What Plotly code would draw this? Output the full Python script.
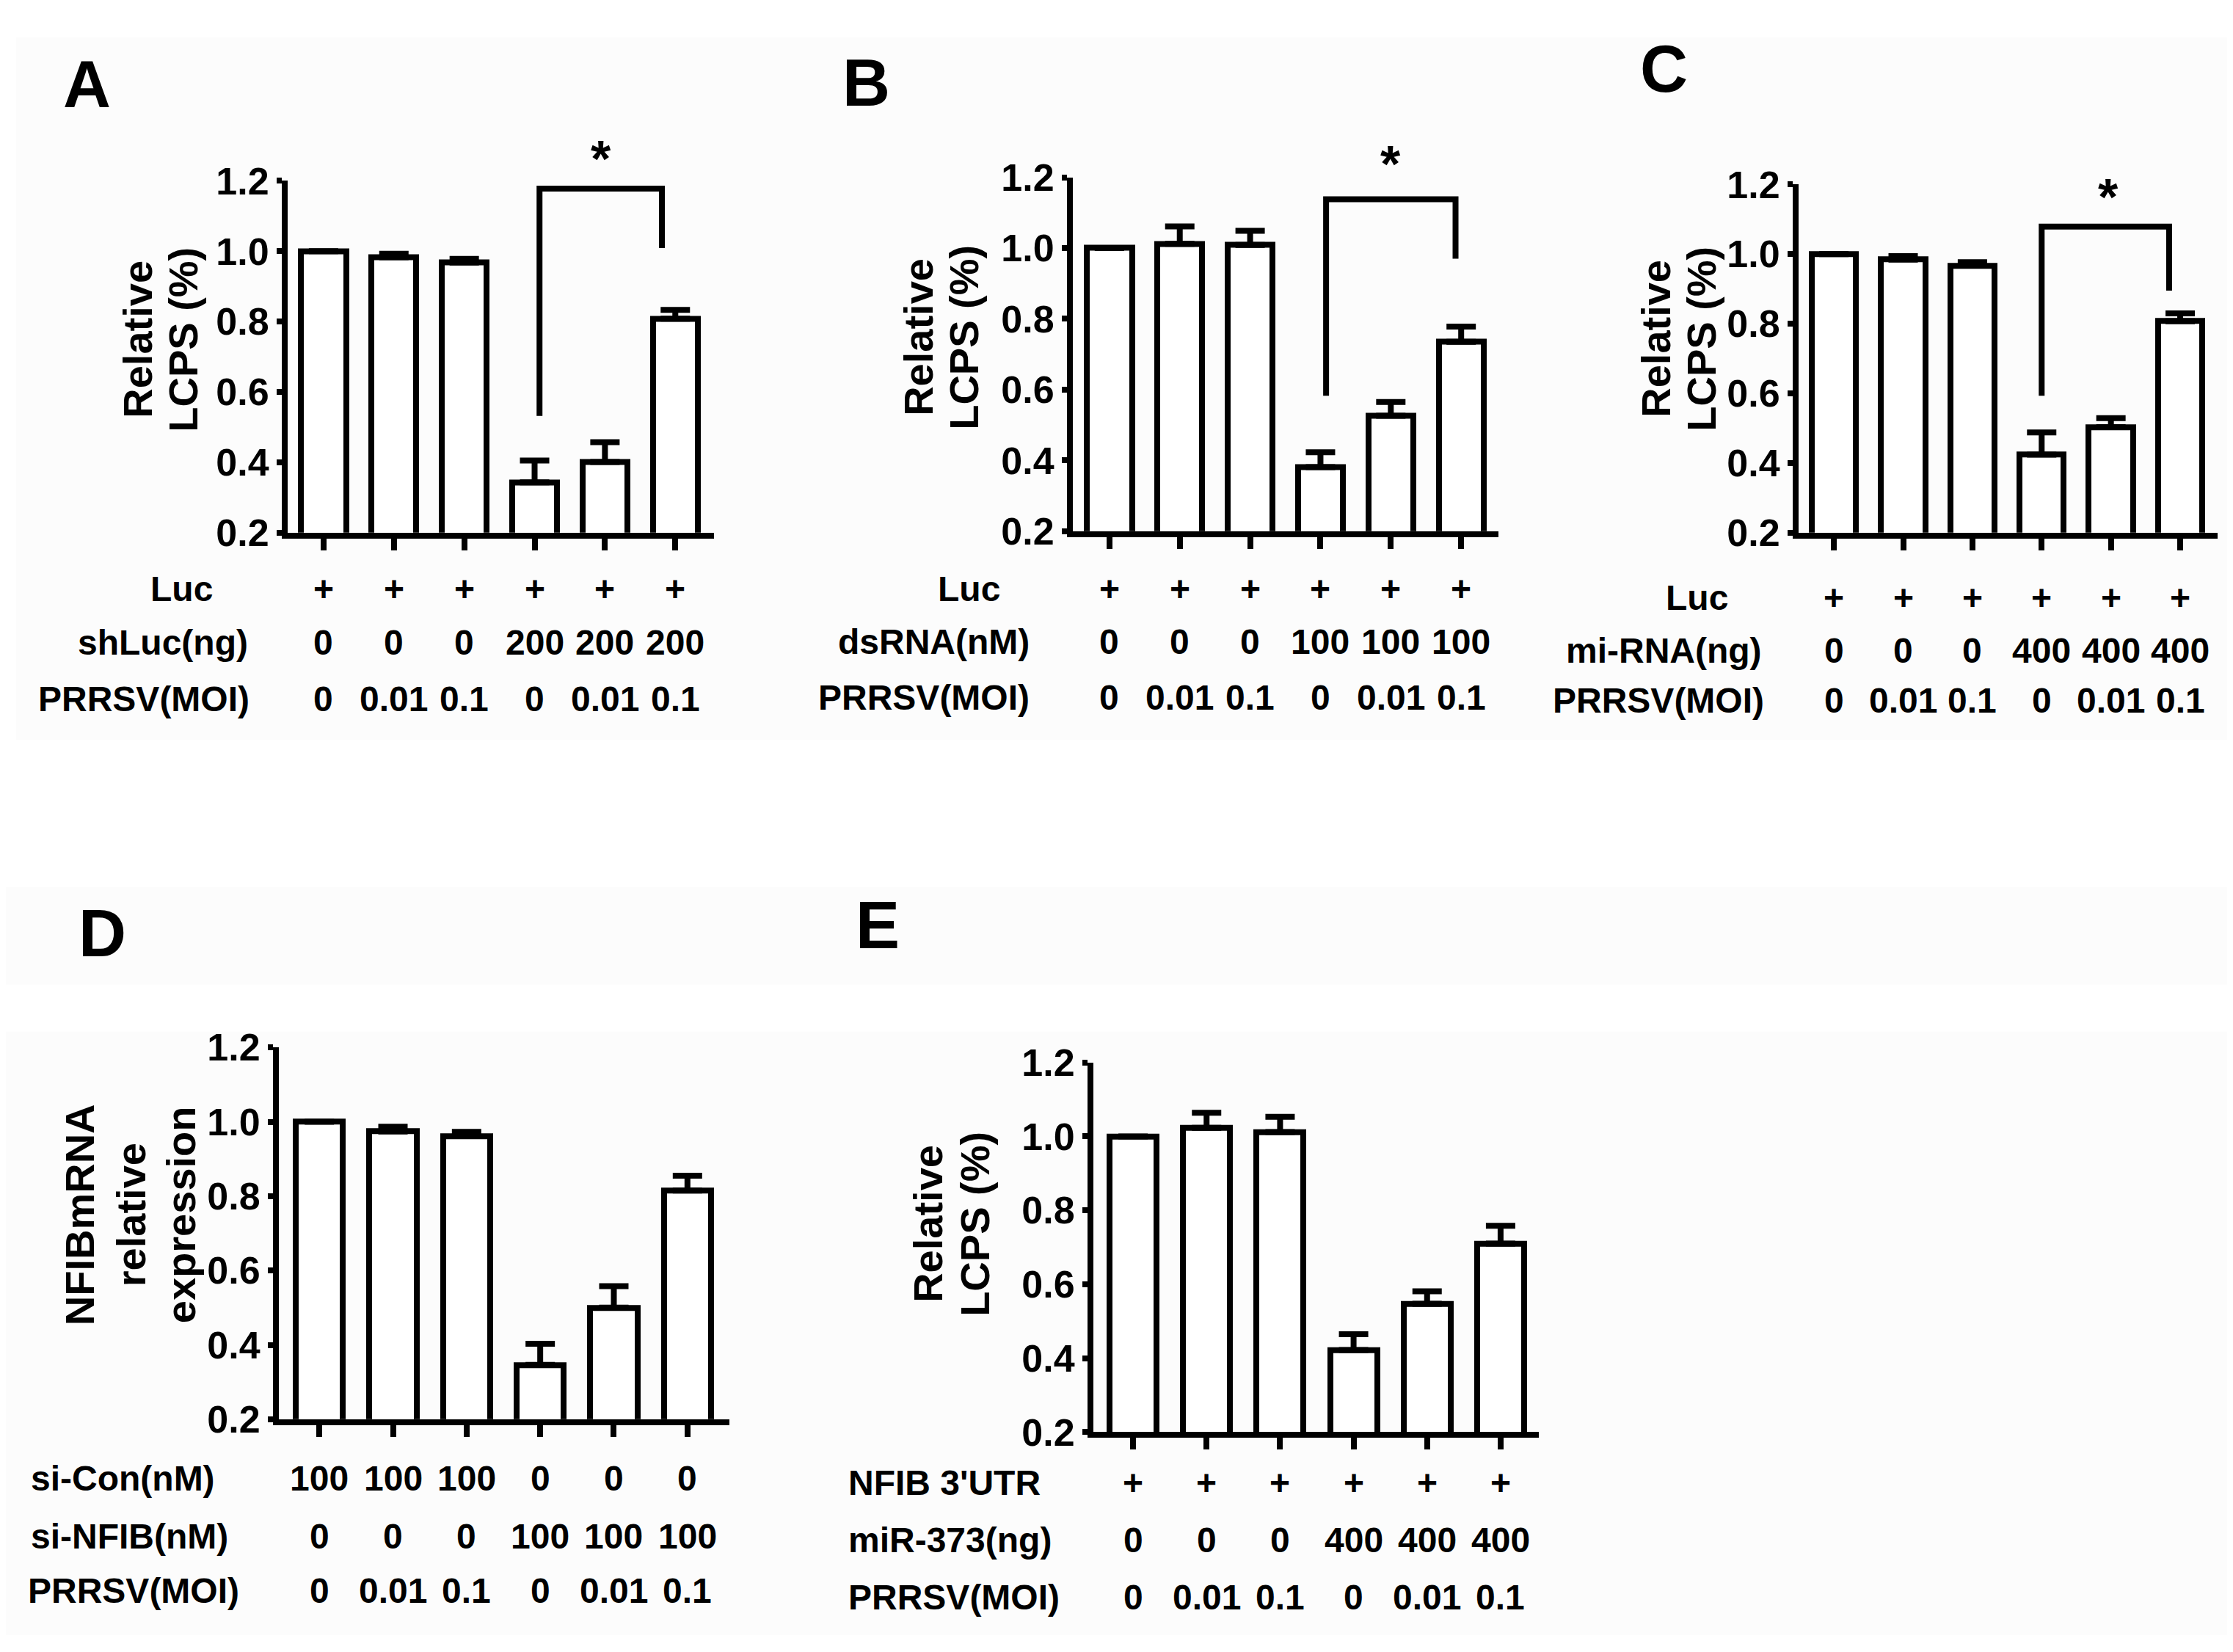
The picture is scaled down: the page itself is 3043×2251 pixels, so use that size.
import plotly.graph_objects as go

W, H = 3043, 2251

# ---------------- data ----------------
bar_idx = [0, 1, 2, 3, 4, 5]
y_ticks = [0.2, 0.4, 0.6, 0.8, 1.0, 1.2]

A_values = [1.00, 0.983, 0.968, 0.343, 0.401, 0.808]
A_errors = [0.0, 0.010, 0.010, 0.062, 0.056, 0.025]
B_values = [1.00, 1.012, 1.009, 0.381, 0.526, 0.735]
B_errors = [0.0, 0.049, 0.040, 0.042, 0.039, 0.043]
C_values = [1.00, 0.984, 0.967, 0.424, 0.503, 0.807]
C_errors = [0.0, 0.010, 0.010, 0.064, 0.026, 0.023]
D_values = [1.00, 0.974, 0.962, 0.346, 0.500, 0.815]
D_errors = [0.0, 0.013, 0.011, 0.057, 0.058, 0.040]
E_values = [1.00, 1.023, 1.012, 0.422, 0.547, 0.710]
E_errors = [0.0, 0.041, 0.041, 0.043, 0.034, 0.048]

A_bracket_x = [3.07, 3.07, 4.81, 4.81]
A_bracket_y = [0.532, 1.178, 1.178, 1.009]
A_star = [3.94, 1.277]
B_bracket_x = [3.08, 3.08, 4.92, 4.92]
B_bracket_y = [0.583, 1.138, 1.138, 0.970]
B_star = [4.0, 1.25]
C_bracket_x = [3.0, 3.0, 4.84, 4.84]
C_bracket_y = [0.593, 1.079, 1.079, 0.895]
C_star = [3.96, 1.177]

plus_row = ["+", "+", "+", "+", "+", "+"]
moi_row = ["0", "0.01", "0.1", "0", "0.01", "0.1"]

A_row_names = ["Luc", "shLuc(ng)", "PRRSV(MOI)"]
A_rows = [plus_row, ["0", "0", "0", "200", "200", "200"], moi_row]
B_row_names = ["Luc", "dsRNA(nM)", "PRRSV(MOI)"]
B_rows = [plus_row, ["0", "0", "0", "100", "100", "100"], moi_row]
C_row_names = ["Luc", "mi-RNA(ng)", "PRRSV(MOI)"]
C_rows = [plus_row, ["0", "0", "0", "400", "400", "400"], moi_row]
D_row_names = ["si-Con(nM)", "si-NFIB(nM)", "PRRSV(MOI)"]
D_rows = [["100", "100", "100", "0", "0", "0"], ["0", "0", "0", "100", "100", "100"], moi_row]
E_row_names = ["NFIB 3'UTR", "miR-373(ng)", "PRRSV(MOI)"]
E_rows = [plus_row, ["0", "0", "0", "400", "400", "400"], moi_row]

A_ytitle = ["Relative", "LCPS (%)"]
B_ytitle = ["Relative", "LCPS (%)"]
C_ytitle = ["Relative", "LCPS (%)"]
D_ytitle = ["NFIBmRNA", "relative", "expression"]
E_ytitle = ["Relative", "LCPS (%)"]

# ---------------- layout (pixel geometry) ----------------
FONT = "Liberation Sans, Arial, sans-serif"
LW = 8

panels = [
    dict(letter="A", vals=A_values, errs=A_errors, rows=A_rows, names=A_row_names, ytitle=A_ytitle,
         bx=A_bracket_x, by=A_bracket_y, star=A_star,
         x0=384, x1=965, yt=215, yb=707, xr=[-0.51, 5.55],
         letter_xy=(110, 80), title_x=[180, 242], title_y=437,
         rows_y=[786, 861, 940], name_pos=[("center", 240), ("right", 332), ("right", 334)]),
    dict(letter="B", vals=B_values, errs=B_errors, rows=B_rows, names=B_row_names, ytitle=B_ytitle,
         bx=B_bracket_x, by=B_bracket_y, star=B_star,
         x0=1454, x1=2034, yt=210, yb=705, xr=[-0.52, 5.53],
         letter_xy=(1172, 78), title_x=[1244, 1306], title_y=434,
         rows_y=[786, 860, 938], name_pos=[("center", 1312), ("right", 1397), ("right", 1397)]),
    dict(letter="C", vals=C_values, errs=C_errors, rows=C_rows, names=C_row_names, ytitle=C_ytitle,
         bx=C_bracket_x, by=C_bracket_y, star=C_star,
         x0=2443, x1=3014, yt=220, yb=707, xr=[-0.51, 5.54],
         letter_xy=(2259, 58), title_x=[2249, 2311], title_y=436,
         rows_y=[798, 872, 942], name_pos=[("center", 2304), ("right", 2395), ("right", 2398)]),
    dict(letter="D", vals=D_values, errs=D_errors, rows=D_rows, names=D_row_names, ytitle=D_ytitle,
         bx=None, by=None, star=None,
         x0=372, x1=986, yt=1427, yb=1947, xr=[-0.55, 5.57],
         letter_xy=(131, 1268), title_x=[100, 170, 238], title_y=1661,
         rows_y=[2030, 2111, 2187], name_pos=[("left", 32), ("left", 32), ("left", 28)]),
    dict(letter="E", vals=E_values, errs=E_errors, rows=E_rows, names=E_row_names, ytitle=E_ytitle,
         bx=None, by=None, star=None,
         x0=1482, x1=2089, yt=1448, yb=1965, xr=[-0.54, 5.52],
         letter_xy=(1188, 1256), title_x=[1257, 1321], title_y=1674,
         rows_y=[2036, 2116, 2196], name_pos=[("left", 1146), ("left", 1146), ("left", 1146)]),
]


def px(x):
    return x / W


def py(y):
    return 1 - y / H


def bold(size):
    return dict(family=FONT, size=size, color="black", weight="bold")


fig = go.Figure()
annotations = []
BAND = "#fcfcfc"
shapes = [
    dict(type="rect", xref="paper", yref="paper", x0=px(14), x1=1, y0=py(997), y1=py(14),
         fillcolor=BAND, line=dict(width=0), layer="below"),
    dict(type="rect", xref="paper", yref="paper", x0=0, x1=1, y0=py(1339), y1=py(1203),
         fillcolor=BAND, line=dict(width=0), layer="below"),
    dict(type="rect", xref="paper", yref="paper", x0=0, x1=1, y0=py(2249), y1=py(1405),
         fillcolor=BAND, line=dict(width=0), layer="below"),
]
layout_axes = {}

for i, p in enumerate(panels, start=1):
    xa = "x" if i == 1 else f"x{i}"
    ya = "y" if i == 1 else f"y{i}"
    fig.add_trace(go.Bar(
        x=bar_idx, y=p["vals"], xaxis=xa, yaxis=ya, width=0.64,
        marker=dict(color="white", line=dict(color="black", width=LW)),
        error_y=dict(type="data", array=p["errs"], arrayminus=[0] * 6, symmetric=False,
                     color="black", thickness=LW, width=20),
        showlegend=False, hoverinfo="skip"))
    if p["bx"] is not None:
        fig.add_trace(go.Scatter(
            x=p["bx"], y=p["by"], xaxis=xa, yaxis=ya, mode="lines",
            line=dict(color="black", width=LW), cliponaxis=False,
            showlegend=False, hoverinfo="skip"))
        # star placed in axis-domain units (range 0.2..1.2 -> 0..1)
        annotations.append(dict(x=p["star"][0], y=(p["star"][1] - 0.2) / 1.0,
                                xref=xa, yref=f"{ya} domain", text="*",
                                showarrow=False, yshift=34, font=bold(70)))
    layout_axes["xaxis" if i == 1 else f"xaxis{i}"] = dict(
        domain=[px(p["x0"]), px(p["x1"])], anchor=ya, range=p["xr"],
        showgrid=False, zeroline=False, showline=True, linecolor="black", linewidth=LW,
        ticks="outside", tickvals=bar_idx, ticklen=16, tickwidth=LW, tickcolor="black",
        showticklabels=False, fixedrange=True)
    layout_axes["yaxis" if i == 1 else f"yaxis{i}"] = dict(
        domain=[py(p["yb"]), py(p["yt"])], anchor=xa, range=[0.2, 1.2],
        showgrid=False, zeroline=False, showline=True, linecolor="black", linewidth=LW,
        ticks="outside", tickvals=y_ticks, tickformat=".1f", ticklen=7, tickwidth=LW,
        tickcolor="black", tickfont=bold(52), fixedrange=True)

    lx, ly = p["letter_xy"]
    annotations.append(dict(x=px(lx), y=py(ly), xref="paper", yref="paper", text=p["letter"],
                            showarrow=False, xanchor="center", yanchor="middle",
                            font=bold(90)))
    for line_text, tx in zip(p["ytitle"], p["title_x"]):
        annotations.append(dict(x=px(tx), y=py(p["title_y"]), xref="paper", yref="paper",
                                text=line_text, showarrow=False, textangle=-90,
                                xanchor="center", yanchor="middle", font=bold(56)))
    for r, (name, vals) in enumerate(zip(p["names"], p["rows"])):
        yy = py(p["rows_y"][r])
        anchor, nx = p["name_pos"][r]
        annotations.append(dict(x=px(nx), y=yy, xref="paper", yref="paper", text=name,
                                showarrow=False, xanchor=anchor, yanchor="middle",
                                font=bold(48)))
        for k, v in zip(bar_idx, vals):
            annotations.append(dict(x=k, y=yy, xref=xa, yref="paper", text=v,
                                    showarrow=False, xanchor="center", yanchor="middle",
                                    font=bold(48)))

fig.update_layout(
    width=W, height=H, autosize=False,
    margin=dict(l=0, r=0, t=0, b=0),
    paper_bgcolor="white", plot_bgcolor="rgba(0,0,0,0)",
    showlegend=False, bargap=0,
    annotations=annotations, shapes=shapes,
    **layout_axes)

fig.write_html("out.html")
